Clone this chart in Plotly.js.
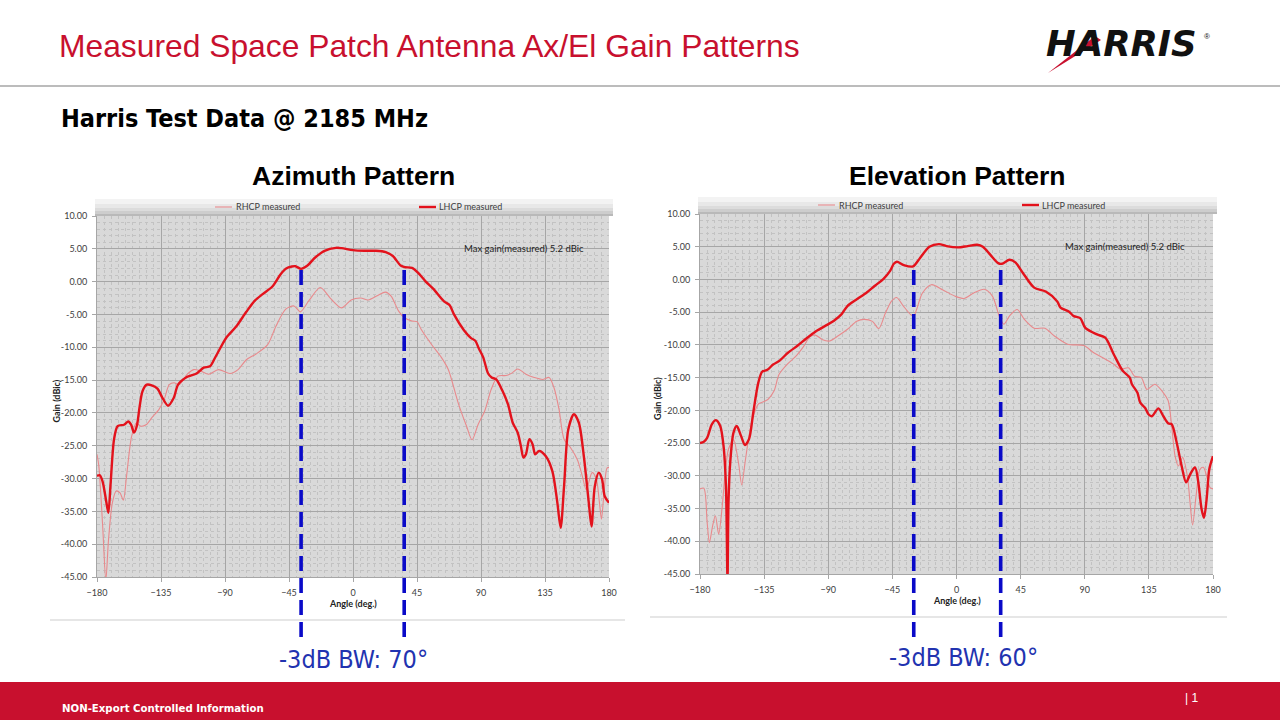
<!DOCTYPE html>
<html><head><meta charset="utf-8">
<script src="https://cdn.plot.ly/plotly-3.0.1.min.js"></script>
<style>html,body{margin:0;padding:0;background:#fff;overflow:hidden}#chart{width:1280px;height:720px}</style>
</head><body><div id="chart"></div>
<script>
// ---------- data ----------
const angleTicks = [-180,-135,-90,-45,0,45,90,135,180];
const gainTicks = [10,5,0,-5,-10,-15,-20,-25,-30,-35,-40,-45];
const gainTickText = ['10.00','5.00','0.00','-5.00','-10.00','-15.00','-20.00','-25.00','-30.00','-35.00','-40.00','-45.00'];

// Azimuth pattern
const azLhcpAngle = [-180,-178,-176,-173.5,-172,-170.5,-168,-165.5,-161,-158,-156,-154,-152,-150,-148,-145,-141.5,-137.5,-134,-130,-126,-123,-116.5,-110,-105,-100.5,-97,-93,-89,-82,-75,-69,-63.5,-56.5,-51,-47,-43,-40.5,-36.5,-32,-27,-20,-12,-8,0,8,16,23,28,33.5,36.5,41.5,45.5,51,56.5,64,68,71,78,83,86,88.5,91.5,95,97.5,100.7,105,109,112.3,115.8,118,119.8,121.6,124,126.3,128.1,130.9,135.6,140.2,143.7,146,148.4,151.4,155.3,158.8,162.3,165.8,167.7,170,172.8,175.1,177,180];
const azLhcpGain  = [-29.6,-29.5,-30.5,-33.5,-35.2,-31,-24,-22,-21.8,-21.3,-21.8,-23,-22,-19,-16.7,-15.7,-15.8,-16.3,-17.7,-18.9,-17.7,-15.7,-14.5,-14,-13.1,-12.9,-11.6,-10,-8.5,-6.8,-4.6,-2.9,-1.9,-0.7,1.1,2.0,2.3,2.35,1.95,2.45,3.6,4.7,5.15,5.1,4.8,4.7,4.7,4.5,3.9,2.45,2.2,2.1,1.4,0.05,-1.1,-3,-3.6,-5.0,-7.4,-8.6,-9.0,-10.2,-11.5,-14,-14.6,-14.9,-16.6,-18.7,-21.5,-23,-25,-26.8,-26.3,-24,-24.8,-26.3,-25.8,-26.6,-28.9,-33.7,-37.5,-31.2,-22.5,-20.2,-21.5,-26.6,-33.7,-37.3,-31.2,-29.1,-30.1,-32.7,-33.7];
const azRhcpAngle = [-180,-178.7,-176,-173.8,-171.9,-169.2,-166.5,-163.8,-161.5,-159.2,-155.7,-152.2,-149.5,-145.5,-141,-136.5,-132.7,-129.2,-125.8,-122.3,-116.5,-112,-107.3,-101.5,-94.6,-86.5,-80.8,-75,-68,-60,-54.2,-47.3,-41.5,-37,-31,-23,-16,-8.1,-1.3,5.4,10.7,17.4,22.8,26.8,32.1,36.2,41.5,45,48,56,62,67,74,79.8,83.7,87.9,92.6,97.2,101.9,107.7,112,115.8,121.6,127.4,133.3,137.9,141.4,144.9,148.4,153,157.7,161.2,164,168.1,170.9,173.3,174.7,176.3,178.6,180];
const azRhcpGain  = [-26.3,-28.1,-37.3,-45.5,-39.3,-33.7,-31.9,-32.2,-33.3,-29.6,-23.6,-21.5,-22,-21.8,-20.6,-19.5,-17.9,-15.7,-15.4,-15.7,-14.1,-13.4,-13.6,-14.1,-13.4,-14,-13.4,-11.9,-11,-9.6,-6.8,-4.2,-3.7,-4.6,-2.9,-0.9,-2.5,-4.0,-2.8,-2.5,-2.8,-2.1,-1.6,-2.2,-4.5,-5.5,-6.0,-6.1,-7.3,-9.8,-11.5,-13.4,-18.5,-22,-24.1,-21.8,-19.7,-16.4,-14.4,-14.3,-13.9,-13.3,-14.1,-14.6,-14.9,-14.6,-16.2,-19.5,-24,-25.3,-27.1,-29.6,-31.7,-29.1,-29.9,-33.7,-36.2,-32.7,-28.4,-28.3];

// Elevation pattern
const elLhcpAngle = [-180,-177.3,-175,-171.6,-168.8,-165.8,-163.5,-161.8,-160.7,-160,-158.8,-156.5,-154.2,-151.2,-148.4,-145.6,-142.6,-139.1,-136.4,-132.7,-128.7,-124.1,-118.3,-111.4,-105.6,-98.6,-90.5,-86,-80.6,-76.7,-69.7,-63,-57.5,-51.2,-46.6,-44,-41.8,-37,-30.5,-25.7,-19,-12.3,-7,1.1,7.8,14.5,18.5,23.8,29.2,31.9,37.2,41.3,46.6,54.5,62.6,70.7,73,78.8,82.3,86.8,90.4,98.6,104.4,110.5,116.5,121.6,123.1,127,128.9,132.3,134.7,137.1,141.7,145.2,148.7,151,154.5,158,161.1,163.9,167.4,169.7,172,173.7,175.5,177.4,180];
const elLhcpGain  = [-25,-24.8,-24.2,-22.1,-21.5,-22.4,-25.4,-31.5,-46,-34,-28,-23.4,-22.4,-23.9,-25.3,-24.4,-20.3,-15.8,-14.1,-13.8,-13,-12.4,-11.2,-10.1,-9.05,-7.9,-6.9,-6.3,-5.3,-4.1,-3.0,-2.0,-1.0,0.1,1.3,2.4,2.7,2.2,2.0,3.25,5.0,5.4,5.1,4.9,5.1,5.3,5.0,3.75,2.5,2.4,3.0,2.6,1.0,-1.25,-1.85,-3.35,-4.3,-4.9,-5.6,-5.9,-7.4,-8.4,-8.9,-11.5,-13.9,-15,-16,-17.3,-18.8,-19.6,-20.6,-20.9,-19.7,-20.9,-22,-22.1,-24.9,-28.5,-31.0,-29.8,-28.7,-31,-35.1,-36.4,-33.6,-29,-27];
const elRhcpAngle = [-180,-177.3,-175,-173.4,-171.1,-169.2,-166.9,-164.6,-162.3,-160,-156.5,-153,-150.7,-148.4,-145.6,-142.6,-139,-135.5,-132.2,-128,-124.5,-119,-113,-107.5,-103,-99,-94,-89,-83,-76.5,-70,-65,-59,-54.5,-50,-45.6,-42,-37.5,-32,-30,-28,-24,-17.6,-9.5,-1,5.2,11.8,19.5,25.2,30,33.2,37.5,42.6,47.6,54.5,62,68.5,78,89.4,96.3,103,110,115,120.7,125,129.7,133.6,139.2,144.8,148.5,151,153.4,155.7,158.7,162,163.9,165.7,168.1,170.9,173.2,175.5,177.9,180];
const elRhcpGain  = [-32,-31.9,-37.1,-40.2,-37.6,-36.1,-38.9,-35.1,-29.5,-25.9,-24.5,-28,-31.4,-28,-23.9,-20.9,-19,-18.7,-18.3,-17,-14.5,-13,-11.8,-10.3,-8.8,-8.5,-9.2,-9.4,-8.6,-7.6,-6.4,-6.1,-6.4,-7.5,-5.2,-3.3,-2.75,-4.0,-5.4,-5.6,-4.6,-2.1,-0.8,-1.6,-2.55,-2.9,-2.1,-1.5,-2.55,-5.6,-6.85,-5.5,-4.6,-6.1,-7.45,-7.45,-8.6,-9.9,-10.1,-11.2,-12,-12.9,-13.7,-13.5,-14.8,-15,-16.8,-16,-17.2,-18.5,-22.4,-27,-28.5,-27.2,-30,-34.1,-37.5,-33.1,-29,-28.7,-30,-31.8,-32];

// -3 dB beamwidth markers (angles)
const azBwAngles = [-36.5, 36];
const elBwAngles = [-30, 31];

// ---------- layout helpers ----------
const W = 1280, H = 720;
const px = x => x / W, py = y => 1 - y / H;
const RED = '#c8102e', LH = '#e3121c', RH = '#e8898c', BLUE = '#0a0ac8';
const NARROW = '"Liberation Sans Narrow", "Arial Narrow", "DejaVu Sans Condensed", "Liberation Sans", sans-serif';
const SANS = '"Liberation Sans", Arial, sans-serif';
const SMALL = 'Lato, "Open Sans", sans-serif';

function xAxis(dom, anchor) {
  return {domain: dom, anchor: anchor, range: [-180, 180], tickmode: 'array', tickvals: angleTicks,
    showgrid: true, gridcolor: '#a6a6a6', gridwidth: 1, zeroline: false,
    minor: {tickmode: 'linear', tick0: -180, dtick: 5, showgrid: true, gridcolor: '#c2c2c2', griddash: 'dot', gridwidth: 1},
    showline: true, linecolor: '#a6a6a6', ticks: 'outside', ticklen: 4, tickcolor: '#a6a6a6',
    tickfont: {family: SMALL, size: 9, color: '#404040'}, ticklabelstandoff: 3, fixedrange: true};
}
function yAxis(dom, anchor) {
  return {domain: dom, anchor: anchor, range: [-45, 10], tickmode: 'array', tickvals: gainTicks, ticktext: gainTickText,
    showgrid: true, gridcolor: '#a6a6a6', gridwidth: 1, zeroline: false,
    minor: {tickmode: 'linear', tick0: -45, dtick: 1, showgrid: true, gridcolor: '#c2c2c2', griddash: 'dot', gridwidth: 1},
    showline: true, linecolor: '#a6a6a6', ticks: 'outside', ticklen: 4, tickcolor: '#a6a6a6',
    tickfont: {family: SMALL, size: 9, color: '#404040'}, ticklabelstandoff: 3, fixedrange: true};
}

const traces = [
  {x: azRhcpAngle, y: azRhcpGain, xaxis: 'x', yaxis: 'y', mode: 'lines', line: {color: RH, width: 1.1, shape: 'spline', smoothing: 0.8}, name: 'RHCP measured', showlegend: false, hoverinfo: 'skip'},
  {x: azLhcpAngle, y: azLhcpGain, xaxis: 'x', yaxis: 'y', mode: 'lines', line: {color: LH, width: 2.4, shape: 'spline', smoothing: 0.8}, name: 'LHCP measured', showlegend: false, hoverinfo: 'skip'},
  {x: elRhcpAngle, y: elRhcpGain, xaxis: 'x2', yaxis: 'y2', mode: 'lines', line: {color: RH, width: 1.1, shape: 'spline', smoothing: 0.8}, name: 'RHCP measured', showlegend: false, hoverinfo: 'skip'},
  {x: elLhcpAngle, y: elLhcpGain, xaxis: 'x2', yaxis: 'y2', mode: 'lines', line: {color: LH, width: 2.4, shape: 'spline', smoothing: 0.8}, name: 'LHCP measured', showlegend: false, hoverinfo: 'skip'}
];

const shapes = [];
const ann = [];
function rectPx(x0, y0, x1, y1, color, layer) {
  shapes.push({type: 'rect', xref: 'paper', yref: 'paper', x0: px(x0), x1: px(x1), y0: py(y1), y1: py(y0), fillcolor: color, line: {width: 0}, layer: layer || 'below'});
}
function linePx(x0, y0, x1, y1, color, width, dash) {
  shapes.push({type: 'line', xref: 'paper', yref: 'paper', x0: px(x0), x1: px(x1), y0: py(y0), y1: py(y1), line: {color: color, width: width, dash: dash || 'solid'}, layer: 'above'});
}
function text(t, x, y, font, xanchor, extra) {
  ann.push(Object.assign({text: t, xref: 'paper', yref: 'paper', x: px(x), y: py(y), showarrow: false, xanchor: xanchor || 'left', yanchor: 'middle', font: font}, extra || {}));
}

// header
text('Measured Space Patch Antenna Ax/El Gain Patterns', 57, 46, {family: SANS, size: 31.8, color: RED});
linePx(0, 86, 1280, 86, '#a6a6a6', 1.5);
text('<b>Harris Test Data @ 2185 MHz</b>', 59, 119, {family: NARROW, size: 25, color: '#000'});

// logo
text('<b><i>HARRIS</i></b>', 1044, 43, {family: '"DejaVu Sans", sans-serif', size: 35.5, color: '#111'});
text('®', 1202, 36, {family: SANS, size: 8, color: '#111'});
shapes.push({type: 'path', xref: 'paper', yref: 'paper', layer: 'above',
  path: `M ${px(1048)} ${py(73)} L ${px(1095)} ${py(36)} L ${px(1101)} ${py(40)} Z`, fillcolor: RED, line: {width: 0}});

// footer
rectPx(0, 682, 1280, 720, RED, 'above');
text('<b>NON-Export Controlled Information</b>', 60, 708, {family: NARROW, size: 11.3, color: '#fff'});
text('| 1', 1183, 698, {family: SANS, size: 12, color: '#fff'});

// chart panels
const panels = [
  {x0: 97, x1: 609, top: 216, bottom: 577, title: 'Azimuth Pattern', tsize: 26.5, cx: 353, frameX0: 50, frameX1: 625, frameY: 620, xa: 'x', ya: 'y', bw: azBwAngles, bwText: '-3dB BW: 70°', bwX: 353, bwY: 659, ylabX: 56, maxR: 586, maxY: 248},
  {x0: 700, x1: 1213, top: 214, bottom: 574, title: 'Elevation Pattern', tsize: 26.5, cx: 957, frameX0: 650, frameX1: 1227, frameY: 617, xa: 'x2', ya: 'y2', bw: elBwAngles, bwText: '-3dB BW: 60°', bwX: 963, bwY: 657, ylabX: 657, maxR: 1187, maxY: 246}
];
panels.forEach(p => {
  text('<b>' + p.title + '</b>', p.cx, 176, {family: SANS, size: p.tsize, color: '#000'}, 'center');
  // legend bar (gradient imitation)
  const gb = [['#f3f3f3', 0, 5], ['#e8e8e8', 5, 9], ['#dcdcdc', 9, 12], ['#cdcdcd', 12, 15], ['#b9b9b9', 15, 17]];
  gb.forEach(g => rectPx(p.x0 - 2, p.top - 17 + g[1], p.x1 + 4, p.top - 17 + g[2], g[0]));
  const ly = p.top - 9;
  const lx1 = p.x0 + 118, lx2 = p.x0 + 322;
  linePx(lx1, ly, lx1 + 17, ly, RH, 1.1);
  text('RHCP measured', lx1 + 19, ly, {family: SMALL, size: 9, color: '#404040'});
  linePx(lx2, ly, lx2 + 17, ly, LH, 2.4);
  text('LHCP measured', lx2 + 18, ly, {family: SMALL, size: 9, color: '#404040'});
  // max gain note
  text('Max gain(measured) 5.2 dBic', p.maxR, p.maxY, {family: SMALL, size: 9.5, color: '#222'}, 'right');
  // axis titles
  text('<b>Angle (deg.)</b>', p.cx, p.bottom + 26, {family: SMALL, size: 9, color: '#222'}, 'center');
  text('<b>Gain (dBic)</b>', p.ylabX, (p.top + p.bottom) / 2 + 5, {family: SMALL, size: 9, color: '#222'}, 'center', {textangle: -90});
  // frame bottom
  linePx(p.frameX0, p.frameY, p.frameX1, p.frameY, '#e6e6e6', 2);
  // beamwidth markers
  p.bw.forEach(a => {
    shapes.push({type: 'line', xref: p.xa, yref: 'paper', x0: a, x1: a, y0: py(637), y1: py(265), line: {color: BLUE, width: 3.6, dash: '15px,7px'}, layer: 'above'});
  });
  text(p.bwText, p.bwX, p.bwY, {family: NARROW, size: 25, color: '#2233b0'}, 'center');
});

const layout = {
  width: W, height: H, margin: {l: 0, r: 0, t: 0, b: 0}, paper_bgcolor: '#ffffff', plot_bgcolor: '#d9d9d9',
  showlegend: false,
  xaxis: xAxis([px(97), px(609)], 'y'),
  yaxis: yAxis([py(577), py(216)], 'x'),
  xaxis2: xAxis([px(700), px(1213)], 'y2'),
  yaxis2: yAxis([py(574), py(214)], 'x2'),
  shapes: shapes, annotations: ann
};
Plotly.newPlot('chart', traces, layout, {staticPlot: true, displayModeBar: false});
</script></body></html>
